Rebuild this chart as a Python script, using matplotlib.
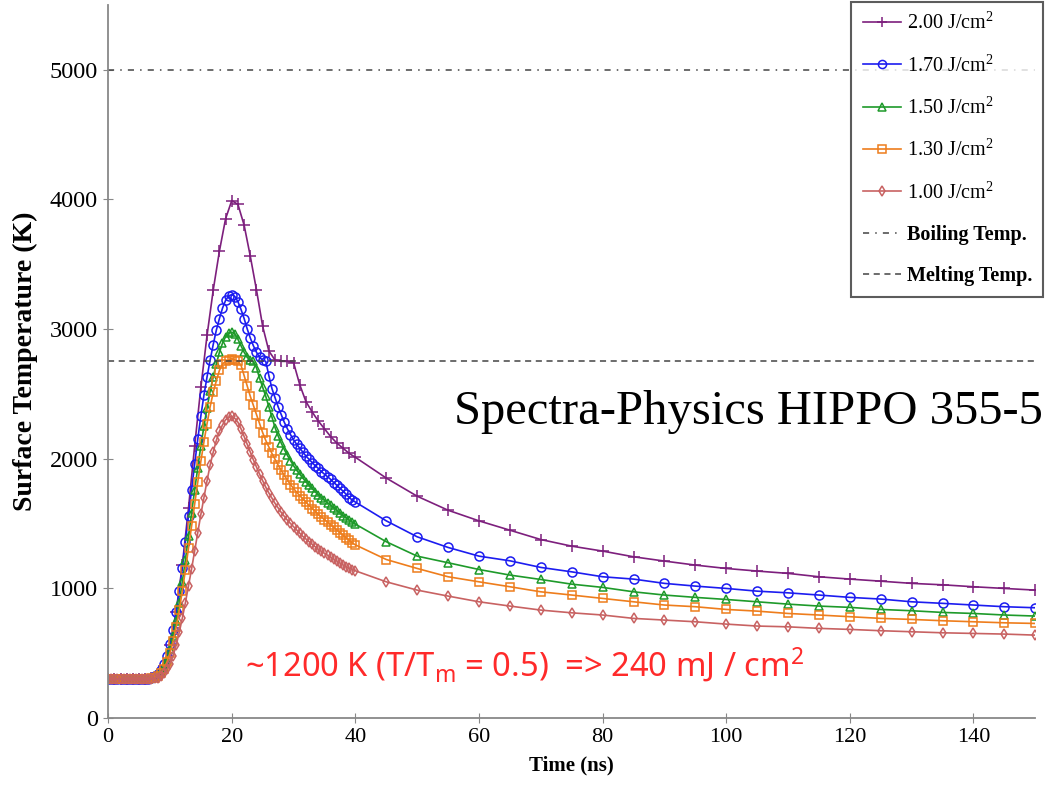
import numpy as np
import matplotlib
matplotlib.use("Agg")
import matplotlib.pyplot as plt

plt.rcParams["font.family"] = ["Liberation Serif", "DejaVu Serif"]
plt.rcParams["mathtext.default"] = "regular"

# time grids: dense part (0-40 ns) and sparse tail (45-150 ns, every 5 ns)
t_dense = np.arange(0, 40.5, 0.5)
t_coarse = np.arange(0, 41, 1)
t_tail = np.arange(45, 151, 5)

# 2.00 J/cm2 (sampled every 1 ns up to 40)
T_200_head = [300, 300, 300, 300, 300, 300, 300, 310, 330, 400,
              560, 820, 1180, 1620, 2100, 2550, 2950, 3300, 3600, 3850,
              3990, 3960, 3800, 3560, 3300, 3020, 2830, 2760, 2750, 2750,
              2740, 2570, 2440, 2360, 2290, 2230, 2170, 2120, 2080, 2040,
              2010]
T_200_tail = [1850, 1710, 1602, 1520, 1448, 1376, 1325, 1287, 1243, 1210,
              1179, 1153, 1133, 1115, 1089, 1071, 1055, 1038, 1027, 1012,
              999, 986]

# 1.70 J/cm2
T_170_head = [300, 300, 300, 300, 300, 300, 300, 300, 300, 300,
              300, 300, 300, 300, 310, 320, 340, 370, 420, 480,
              570, 680, 820, 980, 1160, 1360, 1560, 1760, 1960, 2150,
              2330, 2490, 2630, 2760, 2880, 2990, 3080, 3160, 3220, 3255,
              3265, 3250, 3210, 3150, 3080, 3000, 2930, 2870, 2820, 2780,
              2760, 2750, 2640, 2540, 2470, 2400, 2340, 2280, 2230, 2185,
              2145, 2110, 2080, 2050, 2020, 1995, 1970, 1945, 1925, 1900,
              1880, 1860, 1840, 1815, 1795, 1770, 1750, 1725, 1700, 1680,
              1665]
T_170_tail = [1520, 1397, 1315, 1248, 1212, 1161, 1127, 1089, 1071, 1038,
              1017, 999, 978, 965, 948, 930, 917, 896, 884, 871,
              858, 850]

# 1.50 J/cm2
T_150_head = [300, 300, 300, 300, 300, 300, 300, 300, 300, 300,
              300, 300, 300, 300, 305, 315, 330, 355, 395, 450,
              530, 630, 750, 890, 1050, 1220, 1400, 1580, 1760, 1930,
              2100, 2250, 2390, 2520, 2630, 2730, 2820, 2890, 2940, 2970,
              2975, 2960, 2920, 2870, 2820, 2780, 2760, 2750, 2700, 2620,
              2550, 2480, 2400, 2320, 2240, 2175, 2120, 2070, 2025, 1985,
              1945, 1910, 1880, 1850, 1820, 1795, 1770, 1745, 1720, 1700,
              1680, 1660, 1640, 1620, 1600, 1580, 1560, 1545, 1525, 1510,
              1495]
T_150_tail = [1359, 1248, 1197, 1145, 1102, 1068, 1032, 1007, 973, 948,
              930, 914, 896, 878, 863, 853, 837, 827, 814, 806,
              794, 786]

# 1.30 J/cm2
T_130_head = [300, 300, 300, 300, 300, 300, 300, 300, 300, 300,
              300, 300, 300, 300, 305, 312, 325, 345, 380, 430,
              500, 590, 700, 830, 980, 1140, 1310, 1480, 1650, 1820,
              1980, 2130, 2270, 2400, 2510, 2600, 2680, 2730, 2750, 2760,
              2770, 2760, 2750, 2720, 2640, 2560, 2480, 2410, 2340, 2270,
              2200, 2140, 2090, 2040, 1995, 1950, 1910, 1870, 1835, 1800,
              1770, 1740, 1715, 1690, 1665, 1640, 1615, 1595, 1570, 1550,
              1530, 1510, 1490, 1470, 1450, 1430, 1410, 1390, 1370, 1350,
              1335]
T_130_tail = [1222, 1153, 1089, 1050, 1012, 973, 948, 922, 896, 871,
              858, 837, 824, 806, 794, 781, 768, 760, 750, 742,
              734, 729]

# 1.00 J/cm2
T_100_head = [300, 300, 300, 300, 300, 300, 300, 300, 300, 300,
              300, 300, 300, 300, 300, 305, 312, 325, 345, 375,
              420, 480, 560, 660, 770, 890, 1020, 1150, 1290, 1430,
              1570, 1700, 1830, 1950, 2050, 2140, 2210, 2260, 2300, 2320,
              2325, 2310, 2280, 2230, 2170, 2110, 2050, 1990, 1935, 1880,
              1830, 1780, 1735, 1695, 1655, 1620, 1585, 1555, 1525, 1500,
              1475, 1450, 1425, 1400, 1380, 1360, 1340, 1320, 1300, 1285,
              1270, 1255, 1240, 1225, 1210, 1195, 1180, 1165, 1155, 1145,
              1135]
T_100_tail = [1050, 986, 940, 896, 863, 832, 811, 794, 768, 755,
              742, 724, 709, 703, 691, 683, 673, 665, 657, 652,
              647, 639]

T_boil = 5000
T_melt = 2750

series = [
    ("2.00 J/cm$^2$", t_coarse, T_200_head, T_200_tail, "#7d1f7d", "+", 8),
    ("1.70 J/cm$^2$", t_dense, T_170_head, T_170_tail, "#1c1cf0", "o", 6.5),
    ("1.50 J/cm$^2$", t_dense, T_150_head, T_150_tail, "#1e9a2a", "^", 6),
    ("1.30 J/cm$^2$", t_dense, T_130_head, T_130_tail, "#ee7d1c", "s", 6),
    ("1.00 J/cm$^2$", t_dense, T_100_head, T_100_tail, "#c86262", "d", 5.5),
]

fig = plt.figure(figsize=(10.5, 7.89), dpi=100)
ax = fig.add_axes([0.103, 0.09, 0.883, 0.904])

for label, th, head, tail, color, marker, ms in series:
    tt = np.concatenate([th, t_tail])
    TT = np.concatenate([head, tail])
    ax.plot(tt, TT, color=color, lw=1.2, marker=marker, ms=ms,
            mfc="none", mec=color, mew=1.1, label=label)

ax.axhline(T_boil, color="#444444", lw=1.1, ls=(0, (4, 4, 1, 4)), label="Boiling Temp.")
ax.axhline(T_melt, color="#444444", lw=1.1, ls=(0, (4, 3)), label="Melting Temp.")

ax.set_xlim(0, 150)
ax.set_ylim(0, 5500)
ax.set_xticks(range(0, 141, 20))
ax.set_yticks(range(0, 5001, 1000))
ax.tick_params(direction="inout", length=7, color="#888888", pad=4)
ax.tick_params(axis="x", labelsize=16)
ax.tick_params(axis="y", labelsize=17.5)
for s in ["top", "right"]:
    ax.spines[s].set_visible(False)
for s in ["left", "bottom"]:
    ax.spines[s].set_color("#888888")
    ax.spines[s].set_linewidth(1.3)

ax.set_xlabel("Time (ns)", fontsize=15, fontweight="bold", labelpad=6)
ax.set_ylabel("Surface Temperature (K)", fontsize=20, fontweight="bold", labelpad=8)

leg = ax.legend(loc="upper right", bbox_to_anchor=(1.0086, 1.004), borderaxespad=0,
                fontsize=14.5, frameon=True, fancybox=False, edgecolor="#333333",
                handlelength=1.9, handletextpad=0.3, labelspacing=1.05,
                borderpad=0.55, markerscale=0.9)
leg.get_frame().set_linewidth(1.5)
for txt in leg.get_texts()[5:]:
    txt.set_fontweight("bold")

ax.text(56, 2360, "Spectra-Physics HIPPO 355-5", fontsize=35, color="black",
        va="center", ha="left", clip_on=False)
ax.text(22.2, 410, "~1200 K (T/T$_m$ = 0.5)  => 240 mJ / cm$^2$",
        fontsize=23.5, color="#ff2a2a", family=["Noto Sans", "DejaVu Sans"],
        va="center", ha="left")

fig.savefig("out.png", dpi=100)
plt.close(fig)
